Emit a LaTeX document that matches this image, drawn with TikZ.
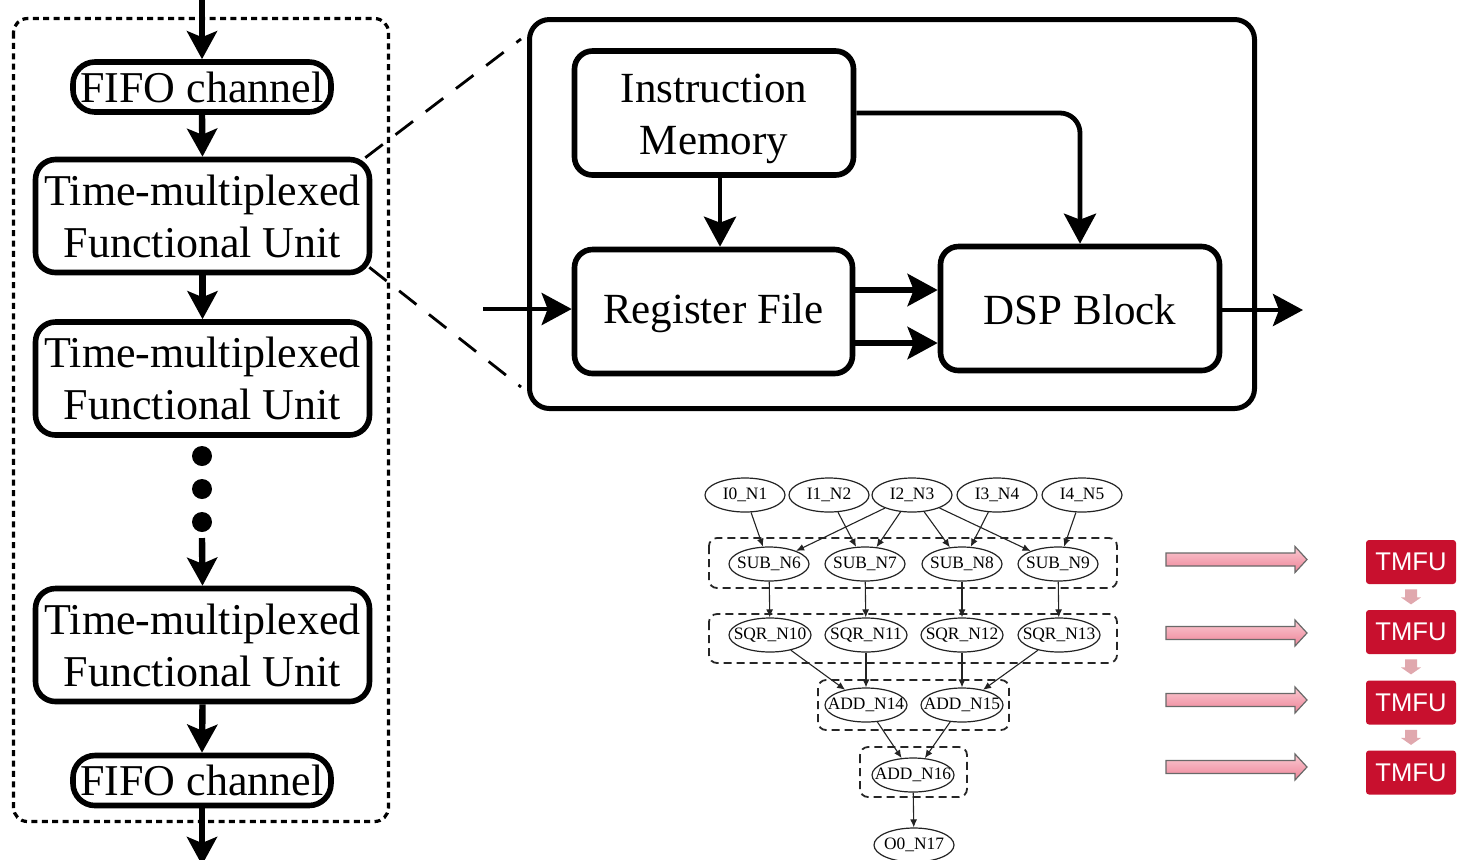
\documentclass[tikz,border=0pt]{standalone}
\usepackage{fontspec}
\setmainfont{Liberation Serif}
\newfontfamily\tmfusans{Liberation Sans}
\usetikzlibrary{arrows.meta,shapes.geometric,calc}

\definecolor{tmfured}{RGB}{200,16,46}
\definecolor{pinkhi}{RGB}{250,202,210}
\definecolor{pinklo}{RGB}{238,132,152}
\definecolor{pinkedge}{RGB}{105,105,105}
\definecolor{pinkstep}{RGB}{224,168,174}
\definecolor{edgegray}{RGB}{35,35,35}

\newcommand\leftfont{\fontsize{22}{26}\selectfont}
\newcommand\rightfont{\fontsize{21.5}{26}\selectfont}
\newcommand\graphfont{\fontsize{8.7}{10}\selectfont}
\newcommand\tmfufont{\tmfusans\fontsize{12.8}{14}\selectfont}

\begin{document}
\begin{tikzpicture}[x=0.5pt, y=-0.5pt,
  lbox/.style={draw, line width=2.8pt, rounded corners=10pt, align=center,
    inner sep=0pt, font=\leftfont},
  fifo/.style={lbox, rounded corners=11pt, minimum width=129pt, minimum height=25pt},
  tmfunit/.style={lbox, minimum width=167pt, minimum height=56.5pt},
  rbox/.style={draw, line width=2.8pt, rounded corners=9pt, inner sep=0pt,
    minimum width=139.5pt, minimum height=62pt},
  rtext/.style={align=center, inner sep=0pt, font=\rightfont},
  flowarrow/.style={line width=3.2pt, -{Stealth[length=14pt,width=15pt,inset=3pt]}},
  rarrow/.style={line width=2.4pt, -{Stealth[length=15pt,width=16pt,inset=3pt]}},
  zoomline/.style={line width=1.4pt, dash pattern=on 11pt off 8pt},
  gnode/.style={ellipse, draw=edgegray, line width=0.6pt, minimum width=40pt,
    minimum height=17pt, inner xsep=-6pt, inner ysep=-2pt, font=\graphfont},
  gedge/.style={draw=edgegray, line width=0.55pt, -{Latex[length=4pt,width=3.5pt]}},
  cluster/.style={draw=black!85, line width=0.9pt, dash pattern=on 4pt off 2.5pt,
    rounded corners=4pt},
  tmfubox/.style={fill=tmfured, rounded corners=1.5pt, minimum width=45pt,
    minimum height=22pt, inner sep=0pt, text=white, font=\tmfufont}
]
\useasboundingbox (0,0) rectangle (1466,859);

% ---------- pipeline of functional units ----------
\draw[line width=1.6pt, dash pattern=on 3pt off 2.2pt, rounded corners=7pt]
  (13.5,18.5) rectangle (388.5,821.5);

\node[fifo] (f1) at (202,87) {FIFO channel};
\node[tmfunit] (tA) at (202.5,216) {Time-multiplexed\\Functional Unit};
\node[tmfunit] (tB) at (202.5,378.5) {Time-multiplexed\\Functional Unit};
\node[tmfunit] (tC) at (202.5,645) {Time-multiplexed\\Functional Unit};
\node[fifo] (f2) at (202,780.5) {FIFO channel};

\coordinate (pin) at (202,-5);
\coordinate (pout) at (202,865);
\coordinate (dotsend) at (202,538);

\foreach \yy in {456,489,522}
  \fill (202,\yy) circle[radius=5pt];

\draw[flowarrow] (pin) -- (f1.north);
\draw[flowarrow] (f1.south) -- (tA.north);
\draw[flowarrow] (tA.south) -- (tB.north);
\draw[flowarrow] (dotsend) -- (tC.north);
\draw[flowarrow] (tC.south) -- (f2.north);
\draw[flowarrow] (f2.south) -- (pout);

% ---------- inside a functional unit ----------
\node[draw, line width=2.5pt, rounded corners=10pt, minimum width=362.5pt,
  minimum height=194.5pt, inner sep=0pt] (fu) at (892,214) {};

\node[rbox] (im) at (714,113) {};
\node[rbox, minimum width=139pt] (rf) at (713.5,311.5) {};
\node[rbox] (dsp) at (1080,308.5) {};
\node[rtext] (imtext) at ($(im)+(0,6)$) {Instruction\\Memory};
\node[rtext] (rftext) at ($(rf)+(0,2)$) {Register File};
\node[rtext] (dsptext) at ($(dsp)+(0,1)$) {DSP Block};

\draw[zoomline] ($(tA.north east)+(-7,1)$) -- ($(fu.north west)+(-6,22)$);
\draw[zoomline] ($(tA.south east)+(-3,-8)$) -- ($(fu.south west)+(-6,-24)$);

\coordinate (imcol) at (720,0);
\coordinate (din) at (483,309);
\coordinate (dout) at (1303,310);
\coordinate (busA) at (0,290);
\coordinate (busB) at (0,343);

\draw[rarrow] (im.south -| imcol) -- (rf.north -| imcol);
\draw[rarrow, rounded corners=10pt] (im.east) -| (dsp.north);
\draw[rarrow] (din) -- (din -| rf.west);
\draw[rarrow, line width=3pt] (rf.east |- busA) -- (dsp.west |- busA);
\draw[rarrow, line width=3pt] (rf.east |- busB) -- (dsp.west |- busB);
\draw[rarrow] (dsp.east |- dout) -- (dout);

% ---------- dataflow graph ----------
\draw[cluster] (709,538) rectangle (1117,588);
\draw[cluster] (709,614) rectangle (1117,663);
\draw[cluster] (818,680) rectangle (1009,730);
\draw[cluster] (860,747) rectangle (967,797);

\node[gnode] (i0) at (745,495) {I0\_N1};
\node[gnode] (i1) at (829,495) {I1\_N2};
\node[gnode] (i2) at (912,495) {I2\_N3};
\node[gnode] (i3) at (997,495) {I3\_N4};
\node[gnode] (i4) at (1082,495) {I4\_N5};

\node[gnode] (s6) at (769,564) {SUB\_N6};
\node[gnode] (s7) at (865,564) {SUB\_N7};
\node[gnode] (s8) at (962,564) {SUB\_N8};
\node[gnode] (s9) at (1058,564) {SUB\_N9};

\node[gnode, minimum width=41pt] (q10) at (770,635) {SQR\_N10};
\node[gnode, minimum width=41pt] (q11) at (866,635) {SQR\_N11};
\node[gnode, minimum width=41pt] (q12) at (962,635) {SQR\_N12};
\node[gnode, minimum width=41pt] (q13) at (1059,635) {SQR\_N13};

\node[gnode, minimum width=41pt] (a14) at (866,705) {ADD\_N14};
\node[gnode, minimum width=41pt] (a15) at (962,705) {ADD\_N15};
\node[gnode, minimum width=41pt] (a16) at (913,775) {ADD\_N16};
\node[gnode] (o17) at (914,845) {O0\_N17};

\foreach \s/\t in {i0/s6, i1/s7, i2/s6, i2/s7, i2/s8, i2/s9, i3/s8, i4/s9,
                   s6/q10, s7/q11, s8/q12, s9/q13,
                   q10/a14, q11/a14, q12/a15, q13/a15,
                   a14/a16, a15/a16, a16/o17}
  \draw[gedge] (\s) -- (\t);

% ---------- mapping onto TMFUs ----------
\foreach \yy in {559.5,633,700,767}
  \path[draw=pinkedge, line width=0.6pt, top color=pinkhi, bottom color=pinklo]
    (1166,\yy-6.5) -- (1295,\yy-6.5) -- (1295,\yy-13) -- (1307,\yy)
    -- (1295,\yy+13) -- (1295,\yy+6.5) -- (1166,\yy+6.5) -- cycle;

\node[tmfubox] (m1) at (1411,562) {TMFU};
\node[tmfubox] (m2) at (1411,632) {TMFU};
\node[tmfubox] (m3) at (1411,702.5) {TMFU};
\node[tmfubox] (m4) at (1411,772.5) {TMFU};

\foreach \a in {m1,m2,m3}
  \fill[pinkstep] ($(\a.south)+(-6,5)$) -- ($(\a.south)+(6,5)$)
    -- ($(\a.south)+(6,13)$) -- ($(\a.south)+(10,13)$) -- ($(\a.south)+(0,20)$)
    -- ($(\a.south)+(-10,13)$) -- ($(\a.south)+(-6,13)$) -- cycle;
\end{tikzpicture}
\end{document}
